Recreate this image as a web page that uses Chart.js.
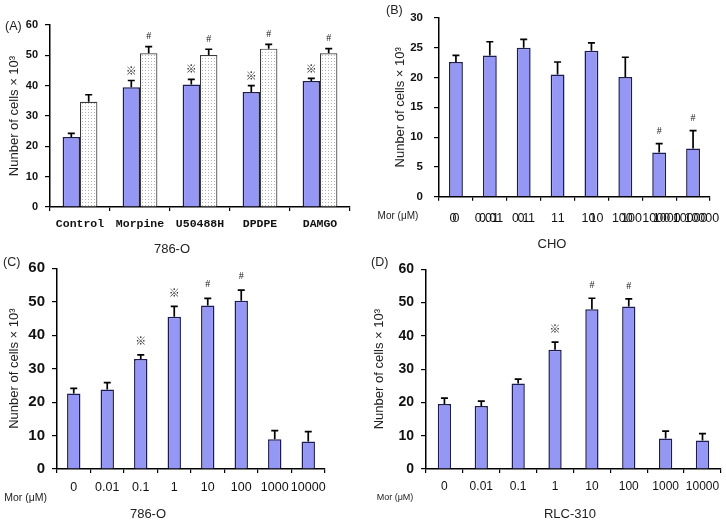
<!DOCTYPE html>
<html><head><meta charset="utf-8">
<script src="https://cdn.jsdelivr.net/npm/chart.js@4.4.1/dist/chart.umd.min.js"></script>
<style>
body{margin:0;background:#fff;width:726px;height:521px;position:relative;overflow:hidden;font-family:"Liberation Sans",Arial,sans-serif;}
canvas{position:absolute;}
.t{position:absolute;white-space:nowrap;color:#222;line-height:1;}
.c{transform:translate(-50%,-50%);}
.r{transform:translate(-100%,-50%);}
</style></head><body>
<canvas id="cA" width="363" height="260" style="left:0;top:0"></canvas>
<canvas id="cB" width="363" height="260" style="left:363px;top:0"></canvas>
<canvas id="cC" width="363" height="271" style="left:0;top:250px"></canvas>
<canvas id="cD" width="363" height="271" style="left:363px;top:250px"></canvas>

<div class="t" style="left:5px;top:20px;font-size:12.5px">(A)</div>
<div class="t" style="left:386px;top:4px;font-size:12.5px">(B)</div>
<div class="t" style="left:3px;top:256px;font-size:12.5px">(C)</div>
<div class="t" style="left:371px;top:256px;font-size:12.5px">(D)</div>
<div class="t c" style="left:172px;top:248px;font-size:13px">786-O</div>
<div class="t c" style="left:552px;top:243px;font-size:13px">CHO</div>
<div class="t c" style="left:148px;top:513px;font-size:13px">786-O</div>
<div class="t c" style="left:570px;top:513px;font-size:13px">RLC-310</div>
<div class="t c" style="left:398px;top:216px;font-size:10px">Mor (μM)</div>
<div class="t r" style="left:47px;top:497px;font-size:10.5px">Mor (μM)</div>
<div class="t c" style="left:395px;top:497px;font-size:9px">Mor (μM)</div>

<script>
// ---------- data ----------
const catsA = ["Control","Morpine","U50488H","DPDPE","DAMGO"];
const aBlue = [23.1, 39.5, 40.4, 37.9, 41.5];
const aBlueErr = [1.2, 2.2, 1.7, 2.1, 0.9];
const aBlueMark = ["", "※", "※", "※", "※"];
const aDot = [34.7, 50.7, 50.1, 52.2, 50.7];
const aDotErr = [2.3, 2.2, 1.9, 1.4, 1.5];
const aDotMark = ["", "#", "#", "#", "#"];
const yTicksA = [0,10,20,30,40,50,60];

const dose = ["0","0.01","0.1","1","10","100","1000","10000"];
const doseOverlay = ["0","0.01","0.1","1","10","100","1000","10000"];
const bVals = [22.6, 23.7, 25.0, 20.5, 24.5, 20.1, 7.4, 8.1];
const bErr  = [1.1, 2.3, 1.4, 2.1, 1.3, 3.3, 1.5, 3.0];
const bMark = ["","","","","","","#","#"];
const yTicksB = [0,5,10,15,20,25,30];

const cVals = [22.6, 23.8, 32.9, 45.5, 48.9, 50.3, 8.9, 8.2];
const cErr  = [1.5, 2.0, 1.2, 3.1, 2.1, 3.2, 2.6, 3.0];
const cMark = ["","","※","※","#","#","",""];
const yTicksC = [0,10,20,30,40,50,60];

const dVals = [19.5, 18.9, 25.7, 35.8, 48.0, 48.8, 9.2, 8.6];
const dErr  = [1.8, 1.5, 1.3, 2.3, 3.3, 2.3, 2.2, 2.0];
const dMark = ["","","","※","#","#","",""];
const yTicksD = [0,10,20,30,40,50,60];

const yTitle = "Nunber of cells × 10³";

// ---------- styling ----------
Chart.defaults.font.family = '"Liberation Sans", Arial, sans-serif';
Chart.defaults.color = '#111';
const BLUE = '#9597f5';
const BLUE_BORDER = '#1c1c50';

function dotPattern(){
  const c = document.createElement('canvas'); c.width = 3; c.height = 3;
  const g = c.getContext('2d');
  g.fillStyle = '#fff'; g.fillRect(0,0,3,3);
  g.fillStyle = '#b4b4b4'; g.fillRect(1,1,1,1);
  return document.createElement('canvas').getContext('2d').createPattern(c,'repeat');
}

const errPlugin = {
  id: 'errbars',
  afterDatasetsDraw(chart, args, opts){
    const ctx = chart.ctx, ys = chart.scales.y;
    chart.data.datasets.forEach((ds, di) => {
      const meta = chart.getDatasetMeta(di);
      meta.data.forEach((bar, i) => {
        const top = ys.getPixelForValue(ds.data[i] + ds.errors[i]);
        ctx.save();
        ctx.strokeStyle = '#000'; ctx.lineWidth = opts.lw;
        ctx.beginPath();
        ctx.moveTo(bar.x, bar.y); ctx.lineTo(bar.x, top);
        ctx.moveTo(bar.x - opts.cap, top); ctx.lineTo(bar.x + opts.cap, top);
        ctx.stroke();
        if (ds.marks && ds.marks[i]) {
          ctx.fillStyle = '#1a1a1a';
          ctx.font = ds.marks[i] === '#' ? opts.hashFont : opts.markFont;
          ctx.textAlign = 'center'; ctx.textBaseline = 'middle';
          ctx.fillText(ds.marks[i], bar.x, top - opts.gap);
        }
        ctx.restore();
      });
    });
  }
};

function geom(L,T,W,H,x0,x1,y0,y1,tx){
  const half = 13*1.2/2;
  const sl = tx - half - L;
  return {pad:{left:sl, top:y0-T, right:L+W-x1, bottom:0}, yW:x0-L-sl, xH:T+H-y1};
}

function yScale(ticksArr, max, g, fsize, pad){
  return {
    min: 0, max: max,
    afterBuildTicks: s => { s.ticks = ticksArr.map(v => ({value: v})); },
    grid: {drawOnChartArea:false, tickLength:5, color:'#000', lineWidth:1.2},
    border: {color:'#000', width:1.5},
    ticks: {padding: pad, color:'#111', font:{size:fsize, weight:'bold'}},
    title: {display:true, text:yTitle, padding:0, color:'#222', font:{size:13, lineHeight:1.2}},
    afterFit: s => { s.width = g.yW; }
  };
}

function xScale(g, font, pad, labelOffset){
  return {
    grid: {drawOnChartArea:false, tickLength:4, color:'#000', lineWidth:1.2, offset:true},
    border: {color:'#000', width:1.5},
    ticks: {padding: pad, color:'#111', font: font, autoSkip:false, maxRotation:0, labelOffset: labelOffset || 0},
    afterFit: s => { s.height = g.xH; }
  };
}

function baseOpts(g){
  return {
    responsive:false, animation:false, devicePixelRatio:1,
    layout:{padding:g.pad},
    plugins:{legend:{display:false}, tooltip:{enabled:false}}
  };
}

const MARKS = {markFont:'bold 11px "Noto Sans CJK SC"', hashFont:'10px "Liberation Serif"'};

// ---------- Panel A ----------
{
  const g = geom(0,0,363,260, 50,350,25,207, 14);
  const o = baseOpts(g);
  o.plugins.errbars = Object.assign({lw:1.7, cap:3.5, gap:10}, MARKS);
  o.scales = {
    x: xScale(g, {family:'"Liberation Mono", monospace', size:11.5, weight:'bold'}, 6),
    y: yScale(yTicksA, 60, g, 11, 7)
  };
  new Chart(document.getElementById('cA'), {
    type:'bar',
    data:{labels:catsA, datasets:[
      {data:aBlue, errors:aBlueErr, marks:aBlueMark, backgroundColor:BLUE, borderColor:BLUE_BORDER, borderWidth:1.5, categoryPercentage:0.58, barPercentage:1},
      {data:aDot, errors:aDotErr, marks:aDotMark, backgroundColor:dotPattern(), borderColor:'#3a3a3a', borderWidth:1.2, categoryPercentage:0.58, barPercentage:1}
    ]},
    options:o, plugins:[errPlugin]
  });
}

// ---------- Panel B ----------
{
  const g = geom(363,0,363,260, 439,710,11.7,196.7, 400);
  const o = baseOpts(g);
  o.plugins.errbars = Object.assign({lw:1.7, cap:3.5, gap:12}, MARKS);
  o.scales = {
    x: xScale(g, {size:12.5}, 10, -3),
    x2: {
      type:'linear', position:{y:0}, min:0, max:6.75, bounds:'data',
      afterBuildTicks: s => { s.ticks = doseOverlay.map((_, i) => ({value:i})); },
      afterFit: s => { s.paddingLeft = 0; s.paddingRight = 0; },
      grid:{display:false, drawTicks:false}, border:{display:false},
      ticks:{padding:14, color:'#111', font:{size:12.5}, autoSkip:false, maxRotation:0,
             callback: v => doseOverlay[v]}
    },
    y: yScale(yTicksB, 30, g, 11.5, 11)
  };
  new Chart(document.getElementById('cB'), {
    type:'bar',
    data:{labels:dose, datasets:[
      {data:bVals, errors:bErr, marks:bMark, backgroundColor:BLUE, borderColor:BLUE_BORDER, borderWidth:1.5, categoryPercentage:0.41, barPercentage:1}
    ]},
    options:o, plugins:[errPlugin]
  });
}

// ---------- Panel C ----------
{
  const g = geom(0,250,363,271, 57,325,268.3,469, 14);
  const o = baseOpts(g);
  o.plugins.errbars = Object.assign({lw:1.7, cap:3.5, gap:14}, MARKS);
  o.scales = {
    x: xScale(g, {size:12.5}, 7.5),
    y: yScale(yTicksC, 60, g, 15, 7)
  };
  new Chart(document.getElementById('cC'), {
    type:'bar',
    data:{labels:dose, datasets:[
      {data:cVals, errors:cErr, marks:cMark, backgroundColor:BLUE, borderColor:BLUE_BORDER, borderWidth:1.5, categoryPercentage:0.40, barPercentage:1}
    ]},
    options:o, plugins:[errPlugin]
  });
}

// ---------- Panel D ----------
{
  const g = geom(363,250,363,271, 426,721,269.3,469, 379);
  const o = baseOpts(g);
  o.plugins.errbars = Object.assign({lw:1.7, cap:3.5, gap:13}, MARKS);
  o.scales = {
    x: xScale(g, {size:12}, 6.5),
    y: yScale(yTicksD, 60, g, 14, 7)
  };
  new Chart(document.getElementById('cD'), {
    type:'bar',
    data:{labels:dose, datasets:[
      {data:dVals, errors:dErr, marks:dMark, backgroundColor:BLUE, borderColor:BLUE_BORDER, borderWidth:1.5, categoryPercentage:0.36, barPercentage:1}
    ]},
    options:o, plugins:[errPlugin]
  });
}
</script>
</body></html>
